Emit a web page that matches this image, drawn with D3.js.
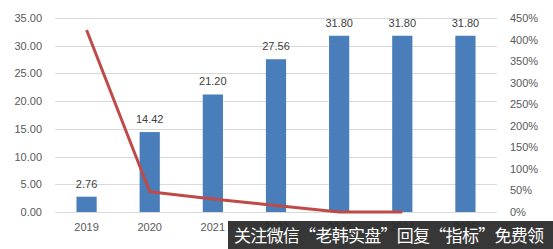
<!DOCTYPE html>
<html>
<head>
<meta charset="utf-8">
<script src="https://cdn.jsdelivr.net/npm/d3@7"></script>
<style>
  body { margin: 0; background: #fff; }
  svg { display: block; }
</style>
</head>
<body>
<div id="chart"></div>
<script>
const years = ['2019', '2020', '2021', '2022', '2023', '2024', '2025'];
const values = [2.76, 14.42, 21.20, 27.56, 31.80, 31.80, 31.80];
// growth line (%), plotted for the first six years
const growth = [422, 47, 30, 15, 0, 0];
const leftTicks = [0, 5, 10, 15, 20, 25, 30, 35];
const rightTicks = [0, 50, 100, 150, 200, 250, 300, 350, 400, 450];
const watermark = '关注微信“老韩实盘”回复“指标”免费领';

const width = 553, height = 249;
const margin = {top: 18, right: 56, bottom: 37, left: 55};

const svg = d3.select('#chart').append('svg')
  .attr('width', width)
  .attr('height', height);

const x = d3.scaleBand()
  .domain(years)
  .range([margin.left, width - margin.right])
  .paddingInner(0.68)
  .paddingOuter(0.34);

const y = d3.scaleLinear().domain([0, 35]).range([height - margin.bottom, margin.top]);
const y2 = d3.scaleLinear().domain([0, 450]).range([height - margin.bottom, margin.top]);

const font = '"Liberation Sans", Arial, sans-serif';
const grey = '#595959';

// gridlines
svg.append('g')
  .selectAll('line')
  .data(leftTicks)
  .enter().append('line')
    .attr('x1', margin.left)
    .attr('x2', width - margin.right)
    .attr('y1', d => Math.round(y(d)) + 0.5)
    .attr('y2', d => Math.round(y(d)) + 0.5)
    .attr('stroke', '#d9d9d9')
    .attr('stroke-width', 1);

// left axis
const yAxis = svg.append('g')
  .attr('transform', 'translate(' + (margin.left - 10) + ',0)')
  .call(d3.axisLeft(y).tickValues(leftTicks).tickFormat(d3.format('.2f')).tickSize(0));
yAxis.select('.domain').remove();
yAxis.selectAll('text')
  .attr('fill', grey).style('font-family', font).style('font-size', '11px');

// right axis
const y2Axis = svg.append('g')
  .attr('transform', 'translate(' + (width - margin.right + 10) + ',0)')
  .call(d3.axisRight(y2).tickValues(rightTicks).tickFormat(d => d + '%').tickSize(0));
y2Axis.select('.domain').remove();
y2Axis.selectAll('text')
  .attr('fill', grey).style('font-family', font).style('font-size', '11px');

// x axis
const xAxis = svg.append('g')
  .attr('transform', 'translate(0,' + (height - margin.bottom + 8) + ')')
  .call(d3.axisBottom(x).tickSize(0));
xAxis.select('.domain').remove();
xAxis.selectAll('text')
  .attr('fill', grey).style('font-family', font).style('font-size', '11px');

// bars
svg.selectAll('.bar')
  .data(values)
  .enter().append('rect')
    .attr('class', 'bar')
    .attr('x', (d, i) => x(years[i]))
    .attr('y', d => y(d))
    .attr('width', x.bandwidth())
    .attr('height', d => y(0) - y(d))
    .attr('fill', '#4a7ebb');

// bar labels
svg.selectAll('.label')
  .data(values)
  .enter().append('text')
    .attr('class', 'label')
    .attr('x', (d, i) => x(years[i]) + x.bandwidth() / 2)
    .attr('y', d => y(d) - 9)
    .attr('text-anchor', 'middle')
    .attr('fill', '#404040')
    .style('font-family', font)
    .style('font-size', '11px')
    .text(d => d.toFixed(2));

// growth line
const line = d3.line()
  .x((d, i) => x(years[i]) + x.bandwidth() / 2)
  .y(d => y2(d));

svg.append('path')
  .datum(growth)
  .attr('d', line)
  .attr('fill', 'none')
  .attr('stroke', '#be4b48')
  .attr('stroke-width', 3)
  .attr('stroke-linejoin', 'round');

// watermark banner
const wm = svg.append('g');
wm.append('rect')
  .attr('x', 228).attr('y', 221)
  .attr('width', width - 228).attr('height', height - 221)
  .attr('fill', 'rgba(38,38,38,0.92)');
wm.append('text')
  .attr('x', 234).attr('y', 242)
  .attr('fill', '#fff')
  .attr('textLength', 310)
  .style('font-family', '"Noto Sans CJK SC", sans-serif')
  .style('font-size', '17px')
  .text(watermark);
</script>
</body>
</html>
